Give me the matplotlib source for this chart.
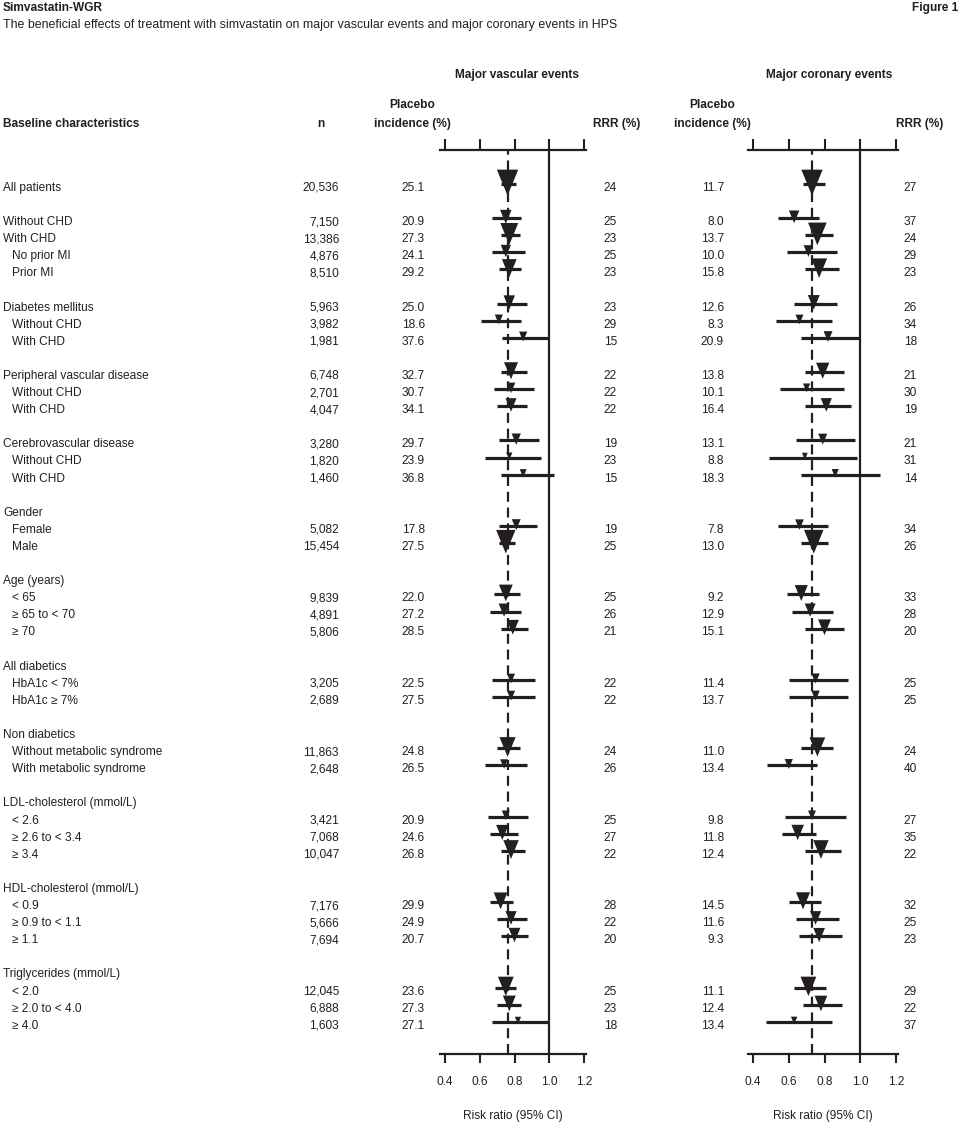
import numpy as np
import matplotlib
matplotlib.use('Agg')
import matplotlib.pyplot as plt
from matplotlib.transforms import blended_transform_factory

plt.rcParams['font.family'] = ['Liberation Sans Narrow', 'Liberation Sans', 'DejaVu Sans']

# --- data ---
groups = [
    ["All patients"],
    ["Without CHD", "With CHD", "  No prior MI", "  Prior MI"],
    ["Diabetes mellitus", "  Without CHD", "  With CHD"],
    ["Peripheral vascular disease", "  Without CHD", "  With CHD"],
    ["Cerebrovascular disease", "  Without CHD", "  With CHD"],
    ["Gender", "  Female", "  Male"],
    ["Age (years)", "  < 65", "  \u2265 65 to < 70", "  \u2265 70"],
    ["All diabetics", "  HbA1c < 7%", "  HbA1c \u2265 7%"],
    ["Non diabetics", "  Without metabolic syndrome", "  With metabolic syndrome"],
    ["LDL-cholesterol (mmol/L)", "  < 2.6", "  \u2265 2.6 to < 3.4", "  \u2265 3.4"],
    ["HDL-cholesterol (mmol/L)", "  < 0.9", "  \u2265 0.9 to < 1.1", "  \u2265 1.1"],
    ["Triglycerides (mmol/L)", "  < 2.0", "  \u2265 2.0 to < 4.0", "  \u2265 4.0"],
]
# group headers that carry no numbers
no_data = ["Gender", "Age (years)", "All diabetics", "Non diabetics",
           "LDL-cholesterol (mmol/L)", "HDL-cholesterol (mmol/L)", "Triglycerides (mmol/L)"]

n = [20536, 7150, 13386, 4876, 8510, 5963, 3982, 1981, 6748, 2701, 4047,
     3280, 1820, 1460, 5082, 15454, 9839, 4891, 5806, 3205, 2689, 11863,
     2648, 3421, 7068, 10047, 7176, 5666, 7694, 12045, 6888, 1603]

vasc_inc = [25.1, 20.9, 27.3, 24.1, 29.2, 25.0, 18.6, 37.6, 32.7, 30.7, 34.1,
            29.7, 23.9, 36.8, 17.8, 27.5, 22.0, 27.2, 28.5, 22.5, 27.5, 24.8,
            26.5, 20.9, 24.6, 26.8, 29.9, 24.9, 20.7, 23.6, 27.3, 27.1]
vasc_rrr = [24, 25, 23, 25, 23, 23, 29, 15, 22, 22, 22, 19, 23, 15, 19, 25,
            25, 26, 21, 22, 22, 24, 26, 25, 27, 22, 28, 22, 20, 25, 23, 18]
vasc_lo = [0.72, 0.67, 0.72, 0.67, 0.71, 0.70, 0.61, 0.73, 0.72, 0.68, 0.70,
           0.71, 0.63, 0.72, 0.71, 0.71, 0.68, 0.66, 0.72, 0.67, 0.67, 0.70,
           0.63, 0.65, 0.66, 0.72, 0.66, 0.70, 0.72, 0.69, 0.70, 0.67]
vasc_hi = [0.81, 0.84, 0.83, 0.86, 0.84, 0.87, 0.84, 1.00, 0.87, 0.91, 0.87,
           0.94, 0.95, 1.03, 0.93, 0.80, 0.83, 0.84, 0.88, 0.92, 0.92, 0.83,
           0.87, 0.88, 0.82, 0.86, 0.79, 0.87, 0.88, 0.81, 0.84, 1.00]

cor_inc = [11.7, 8.0, 13.7, 10.0, 15.8, 12.6, 8.3, 20.9, 13.8, 10.1, 16.4,
           13.1, 8.8, 18.3, 7.8, 13.0, 9.2, 12.9, 15.1, 11.4, 13.7, 11.0,
           13.4, 9.8, 11.8, 12.4, 14.5, 11.6, 9.3, 11.1, 12.4, 13.4]
cor_rrr = [27, 37, 24, 29, 23, 26, 34, 18, 21, 30, 19, 21, 31, 14, 34, 26,
           33, 28, 20, 25, 25, 24, 40, 27, 35, 22, 32, 25, 23, 29, 22, 37]
cor_lo = [0.68, 0.54, 0.69, 0.59, 0.69, 0.63, 0.53, 0.67, 0.69, 0.55, 0.69,
          0.64, 0.49, 0.67, 0.54, 0.67, 0.59, 0.62, 0.69, 0.60, 0.60, 0.67,
          0.48, 0.58, 0.56, 0.69, 0.60, 0.64, 0.66, 0.63, 0.68, 0.47]
cor_hi = [0.80, 0.77, 0.85, 0.87, 0.88, 0.87, 0.84, 1.00, 0.91, 0.91, 0.95,
          0.97, 0.98, 1.11, 0.82, 0.82, 0.77, 0.85, 0.91, 0.93, 0.93, 0.85,
          0.76, 0.92, 0.75, 0.89, 0.78, 0.88, 0.90, 0.81, 0.90, 0.84]

ticks = [0.4, 0.6, 0.8, 1.0, 1.2]

# --- layout helpers (pixel based) ---
W, H = 961, 1125
def fx(px): return px / W
def fy(py): return 1 - py / H

ink = '#231f20'
fs = 8.6

# row index of every label, blank row between groups
labels, rowpos, has_data = [], [], []
r = 0
for g in groups:
    for lab in g:
        labels.append(lab)
        rowpos.append(r)
        has_data.append(lab not in no_data)
        r += 1
    r += 1
rowpos = np.array(rowpos)
data_rows = rowpos[np.array(has_data)]

row0_px, row_h = 184, 17.1
top_px, bot_px = 150, 1054
ylim = ((bot_px - row0_px) / row_h, (top_px - row0_px) / row_h)

fig = plt.figure(figsize=(W / 100, H / 100), dpi=100)

tri = [(-0.82, 1), (0.82, 1), (0, -1)]

def forest(x04, x12, rrr, lo, hi, inc):
    sc = (x12 - x04) / 0.8
    left = x04 - 0.03 * sc
    right = x12 + 0.012 * sc
    ax = fig.add_axes([fx(left), fy(bot_px), (right - left) / W, (bot_px - top_px) / H])
    ax.set_xlim(0.37, 1.212)
    ax.set_ylim(*ylim)
    ax.patch.set_alpha(0)
    for s in ['left', 'right']:
        ax.spines[s].set_visible(False)
    for s in ['top', 'bottom']:
        ax.spines[s].set_linewidth(1.6)
        ax.spines[s].set_color(ink)
    ax.set_yticks([])
    ax.set_xticks(ticks)
    ax.set_xticklabels(['%.1f' % t for t in ticks])
    ax.tick_params(axis='x', top=True, bottom=True, direction='out', length=6.5,
                   width=1.5, color=ink, labelsize=fs, pad=9, labelcolor=ink)
    for t in ax.xaxis.get_major_ticks():
        t.tick2line.set_markersize(8)

    rr = 1 - np.array(rrr) / 100
    ax.axvline(1.0, color=ink, lw=1.6, zorder=1)
    ax.axvline(rr[0], color=ink, lw=1.6, ls=(0, (4.5, 2.6)), zorder=1)
    ax.hlines(data_rows, lo, hi, color=ink, lw=2.3, zorder=2)

    # triangle size follows the number of events (n x placebo incidence)
    events = np.array(n) * np.array(inc)
    h_px = np.maximum(26 * np.sqrt(events / events[0]), 7)
    ax.scatter(rr, data_rows - 0.08, s=(h_px * 0.72) ** 2, marker=tri, color=ink,
               linewidths=0, zorder=3)
    ax.set_xlabel('Risk ratio (95% CI)', fontsize=fs, color=ink, labelpad=16)
    return ax

ax_v = forest(445, 584, vasc_rrr, vasc_lo, vasc_hi, vasc_inc)
ax_c = forest(753, 896, cor_rrr, cor_lo, cor_hi, cor_inc)

# --- table text ---
tr = blended_transform_factory(fig.transFigure, ax_v.transData)
txt = dict(transform=tr, fontsize=fs, color=ink, va='baseline')
k = 0
for lab, y, d in zip(labels, rowpos, has_data):
    yb = y + 0.4
    x = 12 if lab.startswith('  ') else 3
    ax_v.text(fx(x), yb, lab.strip(), ha='left', **txt)
    if d:
        ax_v.text(fx(339), yb, f'{n[k]:,}', ha='right', **txt)
        ax_v.text(fx(425), yb, f'{vasc_inc[k]:.1f}', ha='right', **txt)
        ax_v.text(fx(617), yb, f'{vasc_rrr[k]}', ha='right', **txt)
        ax_v.text(fx(724), yb, f'{cor_inc[k]:.1f}', ha='right', **txt)
        ax_v.text(fx(917), yb, f'{cor_rrr[k]}', ha='right', **txt)
        k += 1

# --- headers ---
bold = dict(fontsize=fs, color=ink, weight='bold', va='center')
fig.text(fx(3), fy(8), 'Simvastatin-WGR', ha='left', **bold)
fig.text(fx(958), fy(8), 'Figure 1', ha='right', **bold)
fig.text(fx(3), fy(25), 'The beneficial effects of treatment with simvastatin on major '
         'vascular events and major coronary events in HPS',
         fontsize=8.9, color=ink, va='center', ha='left')
fig.text(fx(517), fy(75), 'Major vascular events', ha='center', **bold)
fig.text(fx(829), fy(75), 'Major coronary events', ha='center', **bold)
fig.text(fx(3), fy(124), 'Baseline characteristics', ha='left', **bold)
fig.text(fx(321), fy(124), 'n', ha='center', **bold)
for cx in [412, 712]:
    fig.text(fx(cx), fy(105), 'Placebo', ha='center', **bold)
    fig.text(fx(cx), fy(124), 'incidence (%)', ha='center', **bold)
fig.text(fx(640), fy(124), 'RRR (%)', ha='right', **bold)
fig.text(fx(943), fy(124), 'RRR (%)', ha='right', **bold)

fig.savefig('out.png', dpi=100)
